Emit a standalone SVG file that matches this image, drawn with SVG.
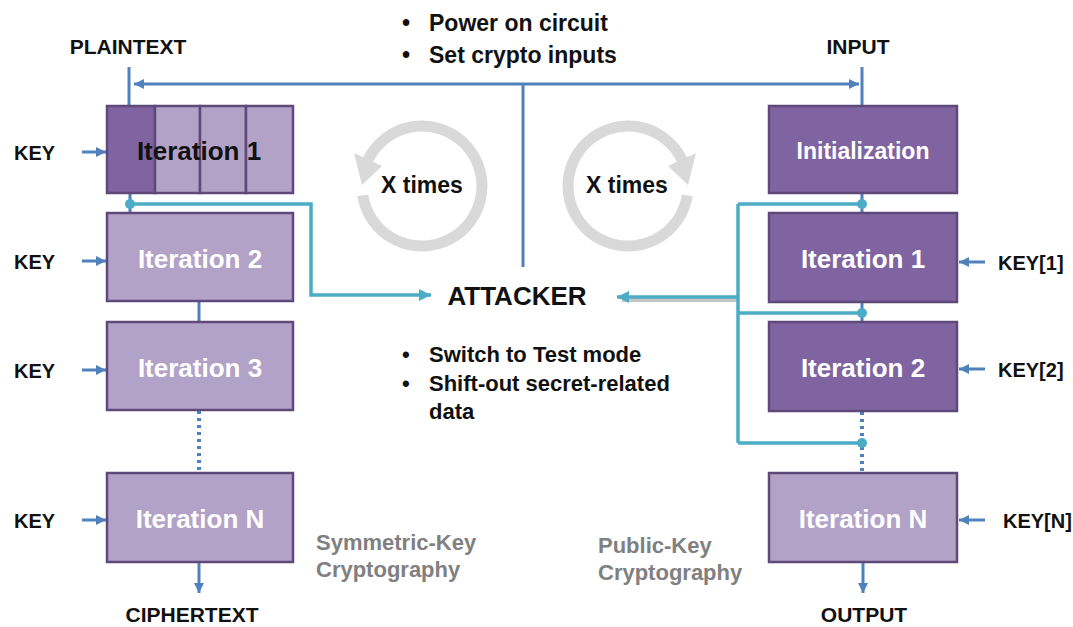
<svg xmlns="http://www.w3.org/2000/svg" width="1073" height="627" viewBox="0 0 1073 627">
<style>
.lbl{font-family:"Liberation Sans",Arial,sans-serif;font-weight:bold;fill:#111}
.box{stroke:#5F497A;stroke-width:2.5}
.dark{fill:#8064A2}
.light{fill:#B3A2C7}
.bt{font-family:"Liberation Sans",Arial,sans-serif;font-weight:bold;font-size:26px;fill:#fff;text-anchor:middle}
.blue{stroke:#4F81BD;stroke-width:3;fill:none}
.teal{stroke:#4BACC6;stroke-width:3.5;fill:none}
.dots{stroke:#4F81BD;stroke-width:4;stroke-dasharray:3 4;fill:none}
.gray{font-family:"Liberation Sans",Arial,sans-serif;font-weight:bold;font-size:22px;fill:#808080}
.loop{fill:none;stroke:#D9D9D9;stroke-width:11}
.ah{fill:#D9D9D9}
.dot{fill:#4BACC6}
</style>
<defs>
<marker id="mb" viewBox="0 0 10 10" refX="10" refY="5" markerUnits="userSpaceOnUse" markerWidth="10" markerHeight="10" orient="auto"><path d="M0,0 L10,5 L0,10 z" fill="#4F81BD"/></marker>
<marker id="mt" viewBox="0 0 10 10" refX="10" refY="5" markerUnits="userSpaceOnUse" markerWidth="12" markerHeight="12" orient="auto"><path d="M0,0 L10,5 L0,10 z" fill="#4BACC6"/></marker>
<g id="loopShape">
<path class="loop" d="M362.7,195.4 A60,60 0 1 0 367.6,160.6"/>
<path class="ah" d="M354,153 L382,166 L362,185 z"/>
</g>
</defs>

<g id="top-notes">
<text class="lbl" font-size="23" x="402" y="31">•</text>
<text class="lbl" font-size="23" x="429" y="31">Power on circuit</text>
<text class="lbl" font-size="23" x="402" y="63">•</text>
<text class="lbl" font-size="23" x="429" y="63">Set crypto inputs</text>
</g>

<g id="loops">
<use href="#loopShape"/>
<use href="#loopShape" transform="translate(1050,0) scale(-1,1)"/>
<text class="lbl" font-size="23" x="422" y="193" text-anchor="middle">X times</text>
<text class="lbl" font-size="23" x="627" y="193" text-anchor="middle">X times</text>
</g>

<g id="connectors">
<path class="blue" d="M129,67 V106"/>
<path class="blue" d="M862,67 V106"/>
<path class="blue" d="M523,84 H134" marker-end="url(#mb)"/>
<path class="blue" d="M523,84 H859" marker-end="url(#mb)"/>
<path class="blue" d="M523,84 V267"/>
<path class="blue" d="M130,193 V213"/>
<path class="blue" d="M199,301 V322"/>
<path class="dots" d="M199,411 V473"/>
<path class="blue" d="M199,562 V593" marker-end="url(#mb)"/>
<path class="blue" d="M862,193 V213"/>
<path class="blue" d="M862,302 V322"/>
<path class="dots" d="M862,412 V473"/>
<path class="blue" d="M863,562 V593" marker-end="url(#mb)"/>
<path class="blue" d="M82,152 H106" marker-end="url(#mb)"/>
<path class="blue" d="M82,261 H106" marker-end="url(#mb)"/>
<path class="blue" d="M82,370 H106" marker-end="url(#mb)"/>
<path class="blue" d="M82,520 H106" marker-end="url(#mb)"/>
<path class="blue" d="M985,262 H959" marker-end="url(#mb)"/>
<path class="blue" d="M985,369 H959" marker-end="url(#mb)"/>
<path class="blue" d="M985,520 H959" marker-end="url(#mb)"/>
<path class="teal" d="M130,204 H311 V295 H431" marker-end="url(#mt)"/>
<path d="M738,300 H622" stroke="#7f7f7f" stroke-opacity="0.45" stroke-width="4" fill="none"/>
<path class="teal" d="M738,297 H617" marker-end="url(#mt)"/>
<path class="teal" d="M738,204 V443"/>
<path class="teal" d="M738,204 H862"/>
<path class="teal" d="M738,313 H862"/>
<path class="teal" d="M738,443 H862"/>
<circle class="dot" cx="130" cy="204" r="5"/>
<circle class="dot" cx="862" cy="204" r="5"/>
<circle class="dot" cx="862" cy="313" r="5"/>
<circle class="dot" cx="862" cy="443" r="5"/>
</g>

<g id="labels">
<text class="lbl" font-size="21" x="128" y="54" text-anchor="middle">PLAINTEXT</text>
<text class="lbl" font-size="21" x="858" y="54" text-anchor="middle">INPUT</text>
<text class="lbl" font-size="21" x="192" y="622" text-anchor="middle">CIPHERTEXT</text>
<text class="lbl" font-size="21" x="864" y="622" text-anchor="middle">OUTPUT</text>
<text class="lbl" font-size="20" x="14" y="160">KEY</text>
<text class="lbl" font-size="20" x="14" y="269">KEY</text>
<text class="lbl" font-size="20" x="14" y="378">KEY</text>
<text class="lbl" font-size="20" x="14" y="528">KEY</text>
<text class="lbl" font-size="20" x="998" y="270">KEY[1]</text>
<text class="lbl" font-size="20" x="998" y="377">KEY[2]</text>
<text class="lbl" font-size="20" x="1003" y="528">KEY[N]</text>
</g>

<g id="left-iter1">
<rect class="box dark" x="107" y="106" width="48" height="87"/>
<rect class="box light" x="155" y="106" width="45" height="87"/>
<rect class="box light" x="200" y="106" width="46" height="87"/>
<rect class="box light" x="246" y="106" width="47" height="87"/>
<text class="bt" x="199" y="160" style="fill:#111">Iteration 1</text>
</g>
<g id="left-iter2">
<rect class="box light" x="107" y="213" width="186" height="88"/>
<text class="bt" x="200" y="268">Iteration 2</text>
</g>
<g id="left-iter3">
<rect class="box light" x="107" y="322" width="186" height="88"/>
<text class="bt" x="200" y="377">Iteration 3</text>
</g>
<g id="left-iterN">
<rect class="box light" x="107" y="473" width="186" height="89"/>
<text class="bt" x="200" y="528">Iteration N</text>
</g>

<g id="right-init">
<rect class="box dark" x="769" y="106" width="188" height="87"/>
<text class="bt" x="863" y="159" style="font-size:23px">Initialization</text>
</g>
<g id="right-iter1">
<rect class="box dark" x="769" y="213" width="188" height="89"/>
<text class="bt" x="863" y="268">Iteration 1</text>
</g>
<g id="right-iter2">
<rect class="box dark" x="769" y="322" width="188" height="89"/>
<text class="bt" x="863" y="377">Iteration 2</text>
</g>
<g id="right-iterN">
<rect class="box light" x="769" y="473" width="188" height="89"/>
<text class="bt" x="863" y="528">Iteration N</text>
</g>

<g id="attacker">
<text class="lbl" font-size="26" x="517" y="305" text-anchor="middle">ATTACKER</text>
<text class="lbl" font-size="22" x="402" y="362">•</text>
<text class="lbl" font-size="22" x="429" y="362">Switch to Test mode</text>
<text class="lbl" font-size="22" x="402" y="391">•</text>
<text class="lbl" font-size="22" x="429" y="391">Shift-out secret-related</text>
<text class="lbl" font-size="22" x="429" y="419">data</text>
</g>

<g id="captions">
<text class="gray" x="316" y="550">Symmetric-Key</text>
<text class="gray" x="316" y="577">Cryptography</text>
<text class="gray" x="598" y="553">Public-Key</text>
<text class="gray" x="598" y="580">Cryptography</text>
</g>
</svg>
